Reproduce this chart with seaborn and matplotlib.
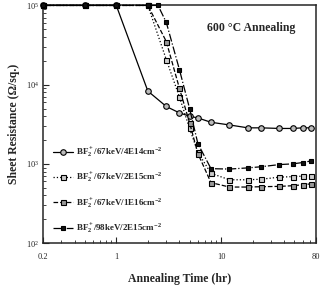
import numpy as np
import pandas as pd
import matplotlib
matplotlib.use('Agg')
import matplotlib.pyplot as plt
import matplotlib.ticker as mticker
import seaborn as sns

# annealing times (hr)
t_a = [0.2, 0.5, 1, 2, 3, 4, 5, 6, 8, 12, 18, 24, 36, 48, 60, 72]
t_b = [0.2, 0.5, 1, 2, 2.5, 3, 4, 5, 6, 8, 12, 18, 24, 36, 48, 60, 72]

# sheet resistance (ohm/sq)
rs_4e14 = [1e5, 1e5, 1e5, 8300, 5300, 4400, 4000, 3800, 3350, 3100, 2850, 2850, 2800, 2800, 2850, 2850]
rs_2e15 = [1e5, 1e5, 1e5, 1e5, 20700, 7000, 2800, 1400, 760, 630, 630, 640, 680, 690, 700, 710]
rs_1e16 = [1e5, 1e5, 1e5, 1e5, 35000, 9000, 3300, 1350, 580, 510, 510, 515, 520, 530, 545, 560]
rs_98kev = [1e5, 1e5, 1e5, 1e5, 1e5, 61000, 15500, 5000, 1800, 870, 860, 890, 920, 980, 1000, 1040, 1090]

labels = ['BF$_2^+$/67keV/4E14cm$^{-2}$',
          'BF$_2^+$/67keV/2E15cm$^{-2}$',
          'BF$_2^+$/67keV/1E16cm$^{-2}$',
          'BF$_2^+$/98keV/2E15cm$^{-2}$']

sns.set_style('ticks')
plt.rcParams['font.family'] = ['Liberation Serif', 'DejaVu Serif']
plt.rcParams['mathtext.default'] = 'regular'

fig = plt.figure(figsize=(3.28, 2.86), dpi=100)
ax = fig.add_axes([0.131, 0.150, 0.832, 0.831])

series = [
    (t_a, rs_4e14, '-', 'o', '#bbbbbb', 4.0),
    (t_a, rs_2e15, ':', 's', '#cccccc', 3.6),
    (t_a, rs_1e16, '--', 's', '#999999', 3.6),
    (t_b, rs_98kev, '-.', 's', '#111111', 3.2),
]

for (t, rs, ls, mk, fc, ms), lab in zip(series, labels):
    df = pd.DataFrame({'t': t, 'rs': rs})
    sns.lineplot(data=df, x='t', y='rs', ax=ax, color='black', linestyle=ls,
                 linewidth=0.9, marker=mk, markersize=ms, markerfacecolor=fc,
                 markeredgecolor='black', markeredgewidth=0.8, label=lab,
                 clip_on=False, zorder=3)

ax.set_xscale('log')
ax.set_yscale('log')
ax.set_xlim(0.2, 80)
ax.set_ylim(1e2, 1e5)

ax.xaxis.set_major_locator(mticker.FixedLocator([0.2, 1, 10, 80]))
ax.xaxis.set_major_formatter(mticker.FixedFormatter(['0.2', '1', '10', '80']))
ax.xaxis.set_minor_locator(mticker.LogLocator(base=10, subs=np.arange(2, 10)))
ax.xaxis.set_minor_formatter(mticker.NullFormatter())
ax.yaxis.set_major_locator(mticker.LogLocator(base=10))
ax.yaxis.set_major_formatter(mticker.LogFormatterMathtext())
ax.yaxis.set_minor_locator(mticker.LogLocator(base=10, subs=np.arange(2, 10)))
ax.yaxis.set_minor_formatter(mticker.NullFormatter())

ax.tick_params(which='major', direction='in', length=4, width=0.8, labelsize=6, pad=3)
ax.tick_params(axis='x', which='major', pad=7)
ax.tick_params(which='minor', direction='in', length=2.5, width=0.6)
for s in ax.spines.values():
    s.set_linewidth(1.1)

ax.set_xlabel('Annealing Time (hr)', fontsize=8.5, fontweight='bold', labelpad=9)
ax.set_ylabel('Sheet Resistance (\u03a9/sq.)', fontsize=8.5, fontweight='bold', labelpad=4)

ax.text(0.762, 0.905, '600 \u00b0C Annealing', transform=ax.transAxes,
        ha='center', va='center', fontsize=8.5, fontweight='bold')

ax.legend(loc='upper left', bbox_to_anchor=(0.02, 0.43), frameon=False,
          prop={'weight': 'bold', 'size': 6.5}, handlelength=2.2,
          handletextpad=0.4, labelspacing=1.3, borderpad=0)

fig.savefig('out.png', dpi=100)
